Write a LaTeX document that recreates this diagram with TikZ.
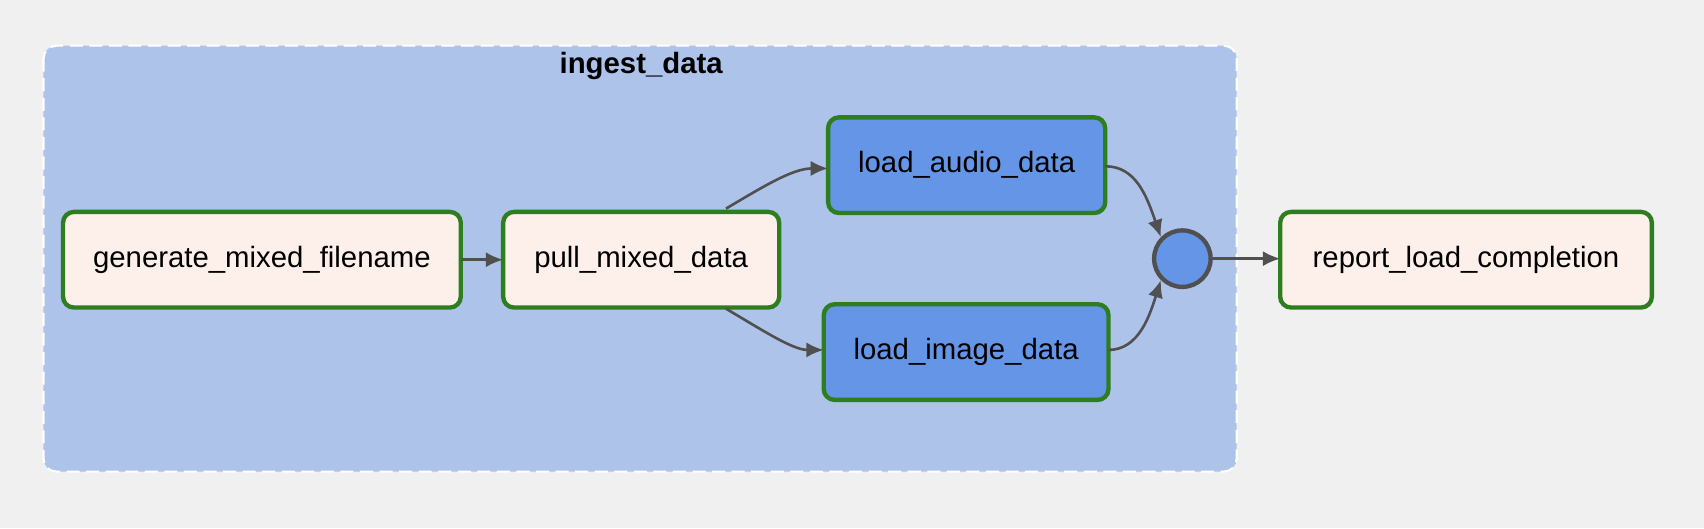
\documentclass[tikz,border=0pt]{standalone}
\usepackage{fontspec}
\setmainfont{Liberation Sans}
\usetikzlibrary{arrows.meta}
\definecolor{bg}{HTML}{F0F0F0}
\definecolor{grp}{HTML}{ADC3EA}
\definecolor{task}{HTML}{FDF0EB}
\definecolor{blue}{HTML}{6495E6}
\definecolor{grn}{HTML}{2E7D1F}
\definecolor{edge}{HTML}{505050}
\begin{document}
\begin{tikzpicture}[x=0.5pt,y=-0.5pt,
  box/.style={draw=grn,line width=2pt,rounded corners=5pt,font=\fontsize{13.5}{15}\selectfont},
  op/.style={box,fill=task},
  ld/.style={box,fill=blue},
  arr/.style={draw=edge,line width=1.2pt,-{Latex[length=8pt,width=7pt]}}]
\fill[bg] (0,0) rectangle (1568,486);
\draw[fill=grp,draw=white,dashed,dash pattern=on 6pt off 3pt,line width=1pt,rounded corners=6pt] (40,42) rectangle (1138,434);
\node[font=\bfseries\fontsize{13.5}{15}\selectfont] (title) at (590,61) {ingest\_data};
\path[op] (58,195) rectangle node (gen) {generate\_mixed\_filename} (424,283);
\path[op] (463,195) rectangle node (pull) {pull\_mixed\_data} (717,283);
\path[ld] (762,108) rectangle node (audio) {load\_audio\_data} (1017,196);
\path[ld] (758,280) rectangle node (image) {load\_image\_data} (1020,368);
\path[op] (1178,195) rectangle node (rep) {report\_load\_completion} (1520,283);
\node[circle,draw=edge,fill=blue,line width=2pt,minimum size=26pt,inner sep=0] (j) at (1088,238) {};
\coordinate (genE) at (424,239); \coordinate (pullW) at (463,239);
\coordinate (pullT) at (668,192); \coordinate (audW) at (762,155);
\coordinate (pullB) at (668,284); \coordinate (imgW) at (758,322);
\coordinate (audE) at (1017,153); \coordinate (imgE) at (1020,322);
\coordinate (repW) at (1178,238);
\draw[arr] (genE) -- (pullW);
\draw[arr] (pullT) .. controls (705,170) and (730,155) .. (audW);
\draw[arr] (pullB) .. controls (705,306) and (730,322) .. (imgW);
\draw[arr] (audE) .. controls (1045,153) and (1055,180) .. (j.north west);
\draw[arr] (imgE) .. controls (1048,322) and (1058,290) .. (j.south west);
\draw[arr] (j) -- (repW);
\end{tikzpicture}
\end{document}
